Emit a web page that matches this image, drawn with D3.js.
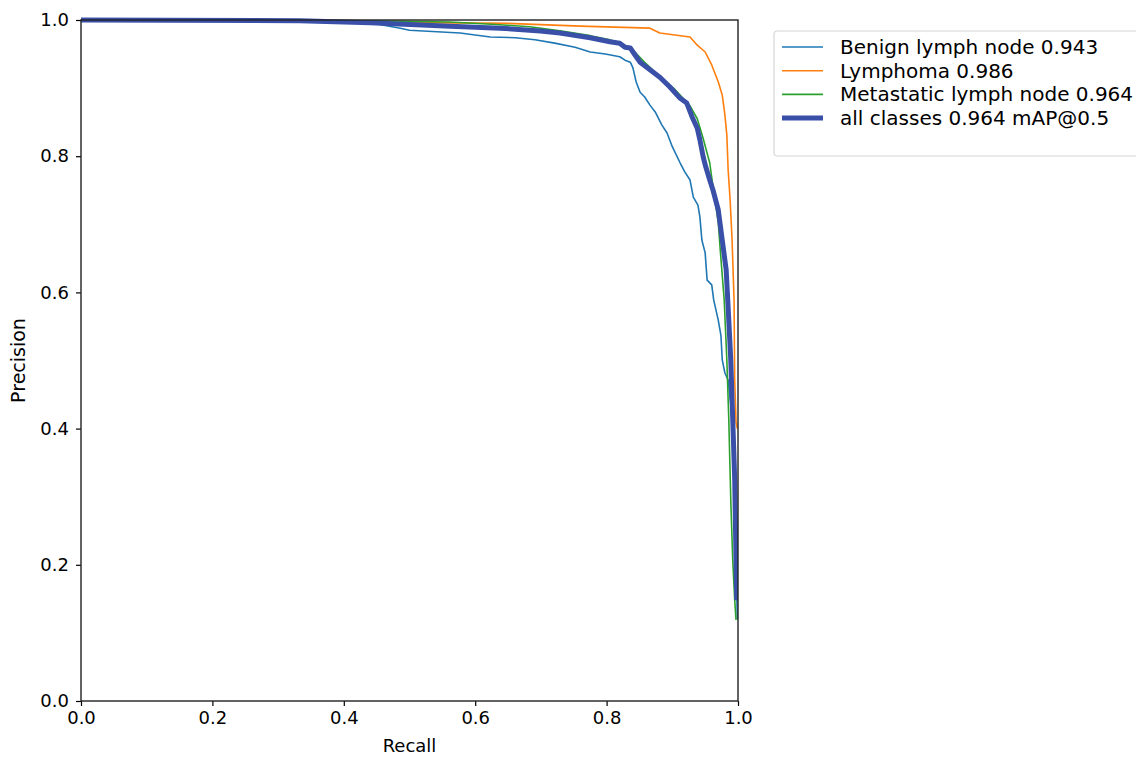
<!DOCTYPE html>
<html>
<head>
<meta charset="utf-8">
<script src="https://cdn.jsdelivr.net/npm/d3@7"></script>
<style>
  html, body { margin: 0; padding: 0; background: #fff; }
  svg { display: block; font-family: "DejaVu Sans", sans-serif; }
</style>
</head>
<body>
<div id="chart"></div>
<script>
(function () {
  'use strict';

  // ── Data (recall, precision) ──────────────────────────────
  var benignRecall = [0, 0.333, 0.40, 0.44, 0.486, 0.50, 0.577, 0.623, 0.661, 0.691, 0.721, 0.752, 0.775, 0.798, 0.820, 0.828, 0.836, 0.840, 0.845, 0.851, 0.858, 0.866, 0.874, 0.884, 0.892, 0.900, 0.912, 0.919, 0.927, 0.932, 0.939, 0.942, 0.945, 0.950, 0.953, 0.960, 0.963, 0.970, 0.974, 0.976, 0.980, 0.985, 0.992, 0.997, 0.999];
  var benignPrecision = [1.0, 0.9985, 0.997, 0.996, 0.988, 0.985, 0.981, 0.975, 0.974, 0.971, 0.966, 0.960, 0.953, 0.950, 0.946, 0.941, 0.938, 0.930, 0.909, 0.894, 0.887, 0.875, 0.865, 0.846, 0.834, 0.814, 0.790, 0.777, 0.765, 0.740, 0.728, 0.711, 0.677, 0.658, 0.618, 0.611, 0.589, 0.559, 0.537, 0.501, 0.482, 0.471, 0.41, 0.21, 0.12];

  var lymphomaRecall = [0, 0.30, 0.65, 0.76, 0.866, 0.881, 0.927, 0.938, 0.950, 0.960, 0.970, 0.976, 0.980, 0.983, 0.985, 0.988, 0.991, 0.994, 0.995, 0.997, 0.999];
  var lymphomaPrecision = [1.0, 0.998, 0.995, 0.991, 0.988, 0.981, 0.975, 0.963, 0.953, 0.934, 0.909, 0.890, 0.861, 0.831, 0.780, 0.736, 0.677, 0.589, 0.471, 0.41, 0.40];

  var metastaticRecall = [0, 0.44, 0.562, 0.638, 0.683, 0.729, 0.775, 0.805, 0.828, 0.843, 0.858, 0.881, 0.904, 0.927, 0.938, 0.947, 0.957, 0.963, 0.970, 0.973, 0.979, 0.983, 0.986, 0.989, 0.992, 0.995, 0.997];
  var metastaticPrecision = [1.0, 0.999, 0.997, 0.993, 0.990, 0.984, 0.977, 0.971, 0.963, 0.953, 0.938, 0.917, 0.898, 0.874, 0.855, 0.826, 0.790, 0.748, 0.702, 0.662, 0.589, 0.501, 0.413, 0.295, 0.207, 0.148, 0.119];

  var allRecall = [0, 0.333, 0.44, 0.562, 0.638, 0.699, 0.729, 0.775, 0.805, 0.820, 0.828, 0.836, 0.843, 0.851, 0.866, 0.881, 0.896, 0.912, 0.922, 0.930, 0.938, 0.942, 0.947, 0.951, 0.957, 0.962, 0.970, 0.976, 0.982, 0.986, 0.989, 0.992, 0.995, 0.997, 0.998];
  var allPrecision = [1.0, 0.999, 0.996, 0.991, 0.988, 0.984, 0.981, 0.974, 0.968, 0.966, 0.960, 0.959, 0.949, 0.938, 0.927, 0.916, 0.902, 0.885, 0.878, 0.858, 0.841, 0.824, 0.799, 0.784, 0.765, 0.750, 0.721, 0.677, 0.633, 0.559, 0.501, 0.413, 0.325, 0.207, 0.148];

  var seriesNames = ['Benign lymph node 0.943', 'Lymphoma 0.986', 'Metastatic lymph node 0.964', 'all classes 0.964 mAP@0.5'];
  var seriesColors = ['#1f77b4', '#ff7f0e', '#2ca02c', '#3a50a8'];
  var tickValues = [0, 0.2, 0.4, 0.6, 0.8, 1.0];

  var series = [
    { r: benignRecall, p: benignPrecision, w: 1.6 },
    { r: lymphomaRecall, p: lymphomaPrecision, w: 1.6 },
    { r: metastaticRecall, p: metastaticPrecision, w: 1.6 },
    { r: allRecall, p: allPrecision, w: 5 }
  ];

  var W = 1136, H = 757;
  var m = { left: 81, top: 20, right: 398, bottom: 56 };
  var iw = W - m.left - m.right, ih = H - m.top - m.bottom;

  var svg = d3.select('#chart').append('svg')
    .attr('width', W)
    .attr('height', H);

  var x = d3.scaleLinear().domain([0, 1]).range([0, iw]);
  var y = d3.scaleLinear().domain([0, 1]).range([ih, 0]);

  var g = svg.append('g').attr('transform', 'translate(' + m.left + ',' + m.top + ')');

  g.append('defs').append('clipPath').attr('id', 'clip')
    .append('rect').attr('x', -3).attr('y', -3).attr('width', iw + 3).attr('height', ih + 6);

  var line = d3.line()
    .x(function (d) { return x(d[0]); })
    .y(function (d) { return y(d[1]); });

  var plot = g.append('g').attr('clip-path', 'url(#clip)');
  series.forEach(function (s, i) {
    var pts = s.r.map(function (r, k) { return [r, s.p[k]]; });
    plot.append('path')
      .datum(pts)
      .attr('fill', 'none')
      .attr('stroke', seriesColors[i])
      .attr('stroke-width', s.w)
      .attr('stroke-linejoin', 'round')
      .attr('d', line);
  });

  // axes
  var xAxis = g.append('g').attr('transform', 'translate(0,' + ih + ')')
    .call(d3.axisBottom(x).tickValues(tickValues).tickFormat(d3.format('.1f')).tickSizeOuter(0).tickSize(5).tickPadding(5));
  var yAxis = g.append('g')
    .call(d3.axisLeft(y).tickValues(tickValues).tickFormat(d3.format('.1f')).tickSizeOuter(0).tickSize(5).tickPadding(7));
  [xAxis, yAxis].forEach(function (a) {
    a.select('.domain').remove();
    a.selectAll('line').attr('stroke', '#000').attr('stroke-width', 1.2);
    a.selectAll('text').attr('font-size', 18).attr('fill', '#000')
      .attr('font-family', '"DejaVu Sans", sans-serif');
  });

  g.append('rect')
    .attr('width', iw).attr('height', ih)
    .attr('fill', 'none').attr('stroke', '#222').attr('stroke-width', 1.4);

  svg.append('text')
    .attr('x', m.left + iw / 2).attr('y', 752)
    .attr('text-anchor', 'middle').attr('font-size', 18).text('Recall');
  svg.append('text')
    .attr('transform', 'translate(25,' + (m.top + ih / 2) + ') rotate(-90)')
    .attr('text-anchor', 'middle').attr('font-size', 19).text('Precision');

  // legend
  var lg = svg.append('g').attr('transform', 'translate(774,31)');
  lg.append('rect')
    .attr('width', 380).attr('height', 125).attr('rx', 3)
    .attr('fill', '#fff').attr('stroke', '#d6d6d6').attr('stroke-width', 1.2);
  seriesNames.forEach(function (name, i) {
    var yy = 16 + i * 23.7;
    lg.append('line')
      .attr('x1', 8).attr('x2', 49).attr('y1', yy).attr('y2', yy)
      .attr('stroke', seriesColors[i]).attr('stroke-width', series[i].w);
    lg.append('text')
      .attr('x', 66).attr('y', yy).attr('dy', '0.35em')
      .attr('font-size', 20).text(name);
  });
})();
</script>
</body>
</html>
